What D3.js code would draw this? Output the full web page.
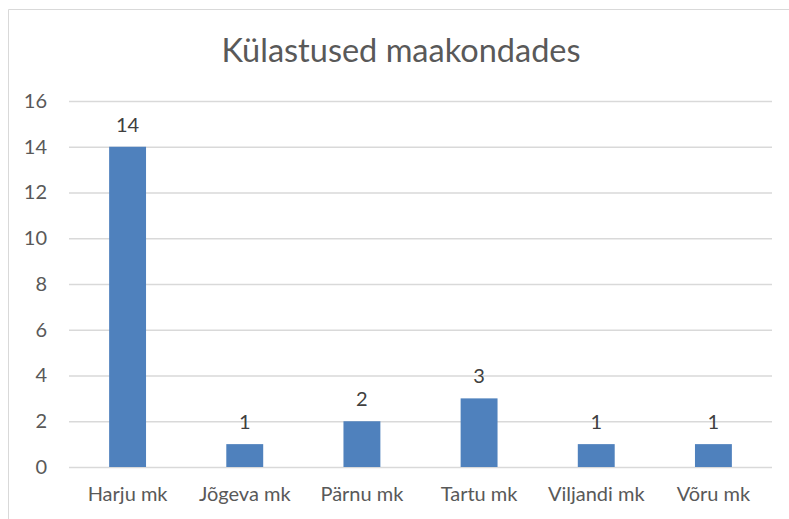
<!DOCTYPE html>
<html><head><meta charset="utf-8">
<script src="https://cdn.jsdelivr.net/npm/d3@7"></script>
<style>body{margin:0;background:#fff}svg{display:block}</style>
</head><body>
<script>
const categories = ["Harju mk","Jõgeva mk","Pärnu mk","Tartu mk","Viljandi mk","Võru mk"];
const values = [14,1,2,3,1,1];
const yTicks = [0,2,4,6,8,10,12,14,16];
const title = "Külastused maakondades";

const W=789,H=519;
const svg=d3.select("body").append("svg").attr("width",W).attr("height",H);
const font="Lato, 'Open Sans', sans-serif";
svg.append("rect").attr("width",W).attr("height",H).attr("fill","#fff");
// chart border (cropped on right/bottom)
svg.append("path").attr("d","M8.5,"+H+"V9.5H"+W).attr("fill","none").attr("stroke","#d9d9d9").attr("stroke-width",1);

const x=d3.scaleBand().domain(categories).range([69,772]).paddingInner(0.685).paddingOuter(0.3425);
const y=d3.scaleLinear().domain([0,16]).range([467,101]);

svg.append("text").attr("x",401).attr("y",62).attr("text-anchor","middle")
 .attr("font-family",font).attr("font-size",32.5).attr("fill","#595959").text(title);

const gy=svg.append("g").attr("transform","translate(69,0)")
 .call(d3.axisLeft(y).tickValues(yTicks).tickSize(-(772-69)).tickPadding(22));
gy.select(".domain").remove();
gy.selectAll(".tick line").attr("stroke","#d9d9d9").attr("stroke-width",1.3);
gy.selectAll(".tick text").attr("font-family",font).attr("font-size",20).attr("fill","#595959");

svg.selectAll("rect.bar").data(values).join("rect").attr("class","bar")
 .attr("x",(d,i)=>x(categories[i])).attr("width",x.bandwidth())
 .attr("y",d=>y(d)).attr("height",d=>y(0)-y(d)).attr("fill","#4f81bd");

svg.selectAll("text.lbl").data(values).join("text").attr("class","lbl")
 .attr("x",(d,i)=>x(categories[i])+x.bandwidth()/2).attr("y",d=>y(d)-15)
 .attr("text-anchor","middle").attr("font-family",font).attr("font-size",20).attr("fill","#404040").text(d=>d);

const gx=svg.append("g").attr("transform","translate(0,467)")
 .call(d3.axisBottom(x).tickSize(0).tickPadding(20));
gx.select(".domain").remove();
gx.selectAll(".tick text").attr("font-family",font).attr("font-size",20).attr("fill","#595959");
</script>
</body></html>
